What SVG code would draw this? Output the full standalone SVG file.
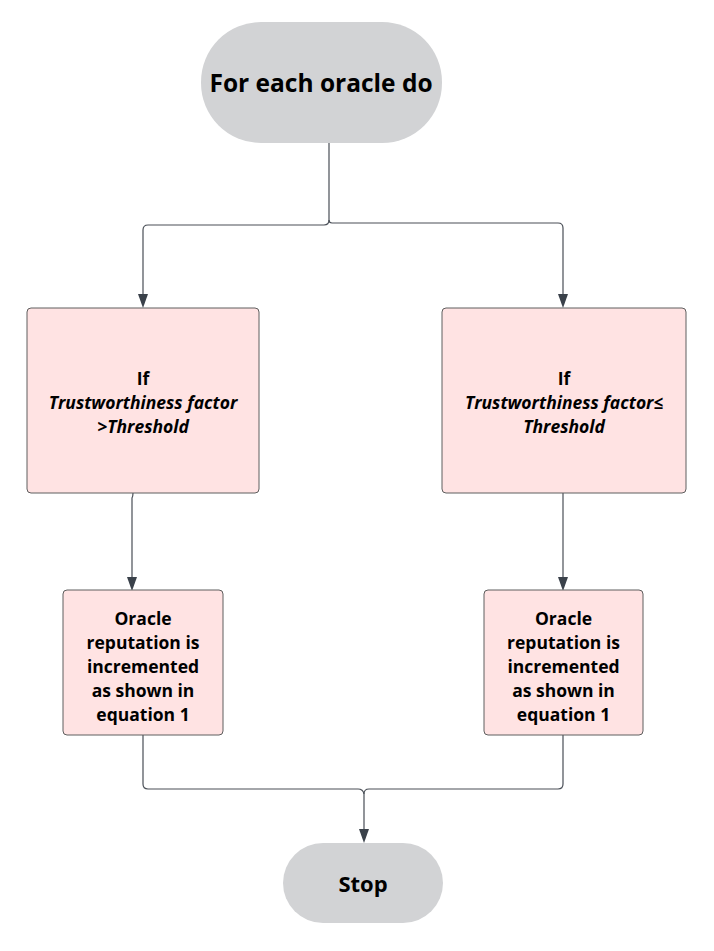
<svg xmlns="http://www.w3.org/2000/svg" width="714" height="951" viewBox="0 0 714 951">
<defs>
<style>
.term{fill:#d2d3d5;stroke:none}
.box{fill:#ffe3e3;stroke:#5e5e5e;stroke-width:1}
.t{font-family:"Open Sans","Liberation Sans",sans-serif;font-weight:bold;fill:#000;text-anchor:middle;font-size:17.5px}
.it{font-style:italic}
.c{fill:none;stroke:#4a4f57;stroke-width:1.2}
.ah{fill:#3a414a}
</style>
</defs>
<rect width="714" height="951" fill="#fff"/>
<g id="connectors">
<path class="c" d="M329,143 V220 Q329,225 324,225 H148 Q143,225 143,230 V294"/>
<path class="c" d="M329,220 Q329,223 332,223 H558 Q563,223 563,228 V294"/>
<path class="c" d="M133,493 Q133,496 132,498 V577"/>
<path class="c" d="M563,493 V577"/>
<path class="c" d="M143,735 V784 Q143,789 148,789 H358 Q363,789 364,794"/>
<path class="c" d="M563,735 V784 Q563,789 558,789 H369 Q364,789 364,794 V829"/>
<path class="ah" d="M138,294 L148,294 L143,308 Z"/>
<path class="ah" d="M558,294 L568,294 L563,308 Z"/>
<path class="ah" d="M127,577 L137,577 L132,591 Z"/>
<path class="ah" d="M558,577 L568,577 L563,591 Z"/>
<path class="ah" d="M359,829 L369,829 L364,843 Z"/>
</g>
<g id="start">
<rect class="term" x="201" y="22" width="241" height="121" rx="60"/>
<text class="t" x="321" y="92" style="font-size:24.5px">For each oracle do</text>
</g>
<g id="cond-left">
<rect class="box" x="27" y="308" width="232" height="185" rx="4"/>
<text class="t" x="143" y="385">If</text>
<text class="t it" x="143" y="409">Trustworthiness factor</text>
<text class="t it" x="143" y="433">&gt;Threshold</text>
</g>
<g id="cond-right">
<rect class="box" x="442" y="308" width="244" height="185" rx="4"/>
<text class="t" x="564" y="385">If</text>
<text class="t it" x="564" y="409">Trustworthiness factor≤</text>
<text class="t it" x="564" y="433">Threshold</text>
</g>
<g id="action-left">
<rect class="box" x="63" y="590" width="160" height="145" rx="4"/>
<text class="t" x="143" y="625">Oracle</text>
<text class="t" x="143" y="649">reputation is</text>
<text class="t" x="143" y="673">incremented</text>
<text class="t" x="143" y="697">as shown in</text>
<text class="t" x="143" y="721">equation 1</text>
</g>
<g id="action-right">
<rect class="box" x="484" y="590" width="159" height="145" rx="4"/>
<text class="t" x="563.5" y="625">Oracle</text>
<text class="t" x="563.5" y="649">reputation is</text>
<text class="t" x="563.5" y="673">incremented</text>
<text class="t" x="563.5" y="697">as shown in</text>
<text class="t" x="563.5" y="721">equation 1</text>
</g>
<g id="stop">
<rect class="term" x="283" y="843" width="160" height="80" rx="40"/>
<text class="t" x="363" y="892" style="font-size:22px">Stop</text>
</g>
</svg>
